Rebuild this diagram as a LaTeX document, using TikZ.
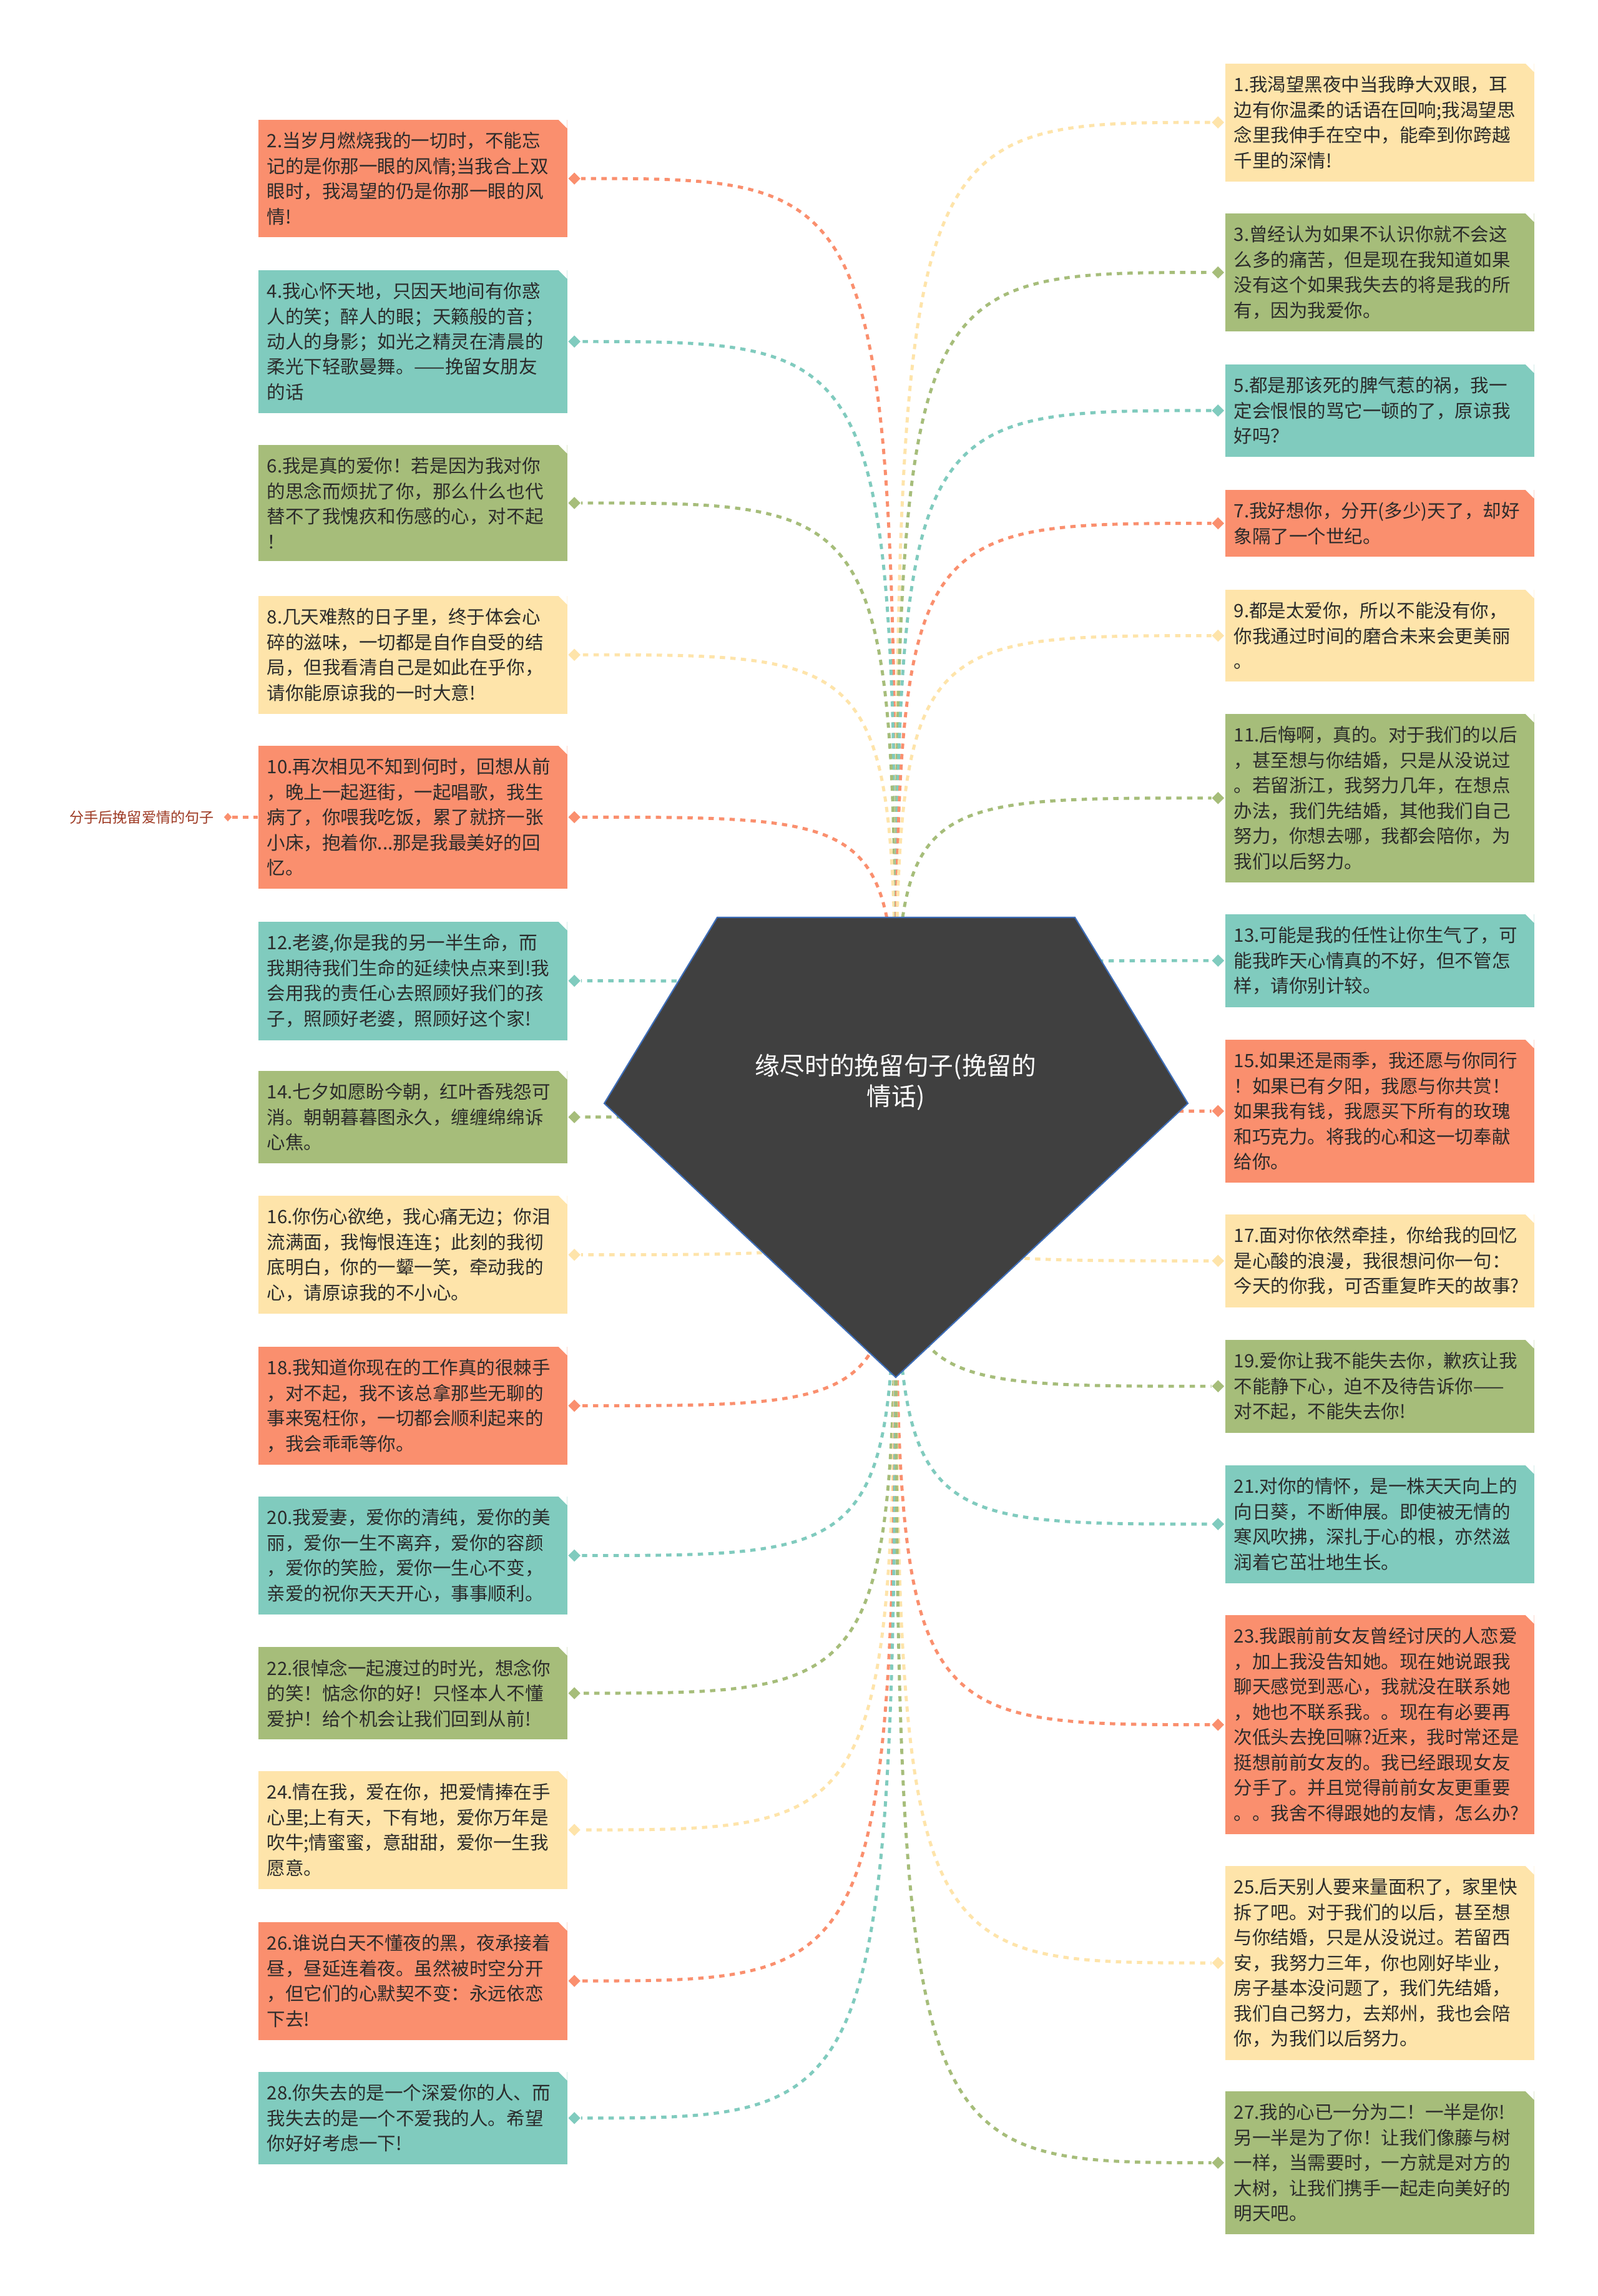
\documentclass[tikz,border=0pt]{standalone}
\usepackage{fontspec}
\usepackage{tikz}
\usetikzlibrary{shapes.geometric,positioning}
\newfontfamily\cjk{Noto Sans CJK SC}
\definecolor{cOrange}{HTML}{FA8F6E}
\definecolor{cTeal}{HTML}{80CBBE}
\definecolor{cGreen}{HTML}{A6BD7A}
\definecolor{cYellow}{HTML}{FEE4AA}
\definecolor{cText}{HTML}{2B2B2B}
\definecolor{cHub}{HTML}{404040}
\definecolor{cHubLine}{HTML}{3D6DB8}
\definecolor{cRoot}{HTML}{9E3A24}

\begin{document}
\begin{tikzpicture}[
    leaf/.style={rectangle, anchor=north west, text width=4.67cm, align=left,
      inner xsep=0.14cm, inner ysep=0.2cm, text=cText,
      font=\cjk\fontsize{8.4}{11.52}\selectfont,
      path picture={\fill[white] (path picture bounding box.north east) -- ++(-0.14,0) -- ++(0.14,-0.14) -- cycle;}},
    tip/.style={diamond, inner sep=0pt, minimum width=0.2cm, minimum height=0.2cm},
    link/.style={line width=1.4pt, dash pattern=on 2.4pt off 2.4pt}]
    \fill[white] (0,0) rectangle (25.6,-36.79);
    \useasboundingbox (0,0) rectangle (25.6,-36.79);
    \coordinate (hub) at (14.35,-17.90);

    % left column
    \node[leaf, fill=cOrange] (n2) at (4.13,-1.91) {2.当岁月燃烧我的一切时，不能忘\\记的是你那一眼的风情;当我合上双\\眼时，我渴望的仍是你那一眼的风\\情!};
    \node[leaf, fill=cTeal] (n4) at (4.13,-4.32) {4.我心怀天地，只因天地间有你惑\\人的笑；醉人的眼；天籁般的音；\\动人的身影；如光之精灵在清晨的\\柔光下轻歌曼舞。——挽留女朋友\\的话};
    \node[leaf, fill=cGreen] (n6) at (4.13,-7.12) {6.我是真的爱你！若是因为我对你\\的思念而烦扰了你，那么什么也代\\替不了我愧疚和伤感的心，对不起\\！};
    \node[leaf, fill=cYellow] (n8) at (4.13,-9.54) {8.几天难熬的日子里，终于体会心\\碎的滋味，一切都是自作自受的结\\局，但我看清自己是如此在乎你，\\请你能原谅我的一时大意!};
    \node[leaf, fill=cOrange] (n10) at (4.13,-11.94) {10.再次相见不知到何时，回想从前\\，晚上一起逛街，一起唱歌，我生\\病了，你喂我吃饭，累了就挤一张\\小床，抱着你...那是我最美好的回\\忆。};
    \node[leaf, fill=cTeal] (n12) at (4.13,-14.76) {12.老婆,你是我的另一半生命，而\\我期待我们生命的延续快点来到!我\\会用我的责任心去照顾好我们的孩\\子，照顾好老婆，照顾好这个家!};
    \node[leaf, fill=cGreen] (n14) at (4.13,-17.15) {14.七夕如愿盼今朝，红叶香残怨可\\消。朝朝暮暮图永久，缠缠绵绵诉\\心焦。};
    \node[leaf, fill=cYellow] (n16) at (4.13,-19.15) {16.你伤心欲绝，我心痛无边；你泪\\流满面，我悔恨连连；此刻的我彻\\底明白，你的一颦一笑，牵动我的\\心，请原谅我的不小心。};
    \node[leaf, fill=cOrange] (n18) at (4.13,-21.57) {18.我知道你现在的工作真的很棘手\\，对不起，我不该总拿那些无聊的\\事来冤枉你，一切都会顺利起来的\\，我会乖乖等你。};
    \node[leaf, fill=cTeal] (n20) at (4.13,-23.97) {20.我爱妻，爱你的清纯，爱你的美\\丽，爱你一生不离弃，爱你的容颜\\，爱你的笑脸，爱你一生心不变，\\亲爱的祝你天天开心，事事顺利。};
    \node[leaf, fill=cGreen] (n22) at (4.13,-26.38) {22.很悼念一起渡过的时光，想念你\\的笑！惦念你的好！只怪本人不懂\\爱护！给个机会让我们回到从前!};
    \node[leaf, fill=cYellow] (n24) at (4.13,-28.37) {24.情在我，爱在你，把爱情捧在手\\心里;上有天，下有地，爱你万年是\\吹牛;情蜜蜜，意甜甜，爱你一生我\\愿意。};
    \node[leaf, fill=cOrange] (n26) at (4.13,-30.79) {26.谁说白天不懂夜的黑，夜承接着\\昼，昼延连着夜。虽然被时空分开\\，但它们的心默契不变：永远依恋\\下去!};
    \node[leaf, fill=cTeal] (n28) at (4.13,-33.19) {28.你失去的是一个深爱你的人、而\\我失去的是一个不爱我的人。希望\\你好好考虑一下!};

    % right column
    \node[leaf, fill=cYellow] (n1) at (19.62,-1.01) {1.我渴望黑夜中当我睁大双眼，耳\\边有你温柔的话语在回响;我渴望思\\念里我伸手在空中，能牵到你跨越\\千里的深情!};
    \node[leaf, fill=cGreen] (n3) at (19.62,-3.41) {3.曾经认为如果不认识你就不会这\\么多的痛苦，但是现在我知道如果\\没有这个如果我失去的将是我的所\\有，因为我爱你。};
    \node[leaf, fill=cTeal] (n5) at (19.62,-5.83) {5.都是那该死的脾气惹的祸，我一\\定会恨恨的骂它一顿的了，原谅我\\好吗？};
    \node[leaf, fill=cOrange] (n7) at (19.62,-7.84) {7.我好想你，分开(多少)天了，却好\\象隔了一个世纪。};
    \node[leaf, fill=cYellow] (n9) at (19.62,-9.44) {9.都是太爱你，所以不能没有你，\\你我通过时间的磨合未来会更美丽\\。};
    \node[leaf, fill=cGreen] (n11) at (19.62,-11.43) {11.后悔啊，真的。对于我们的以后\\，甚至想与你结婚，只是从没说过\\。若留浙江，我努力几年，在想点\\办法，我们先结婚，其他我们自己\\努力，你想去哪，我都会陪你，为\\我们以后努力。};
    \node[leaf, fill=cTeal] (n13) at (19.62,-14.64) {13.可能是我的任性让你生气了，可\\能我昨天心情真的不好，但不管怎\\样，请你别计较。};
    \node[leaf, fill=cOrange] (n15) at (19.62,-16.65) {15.如果还是雨季，我还愿与你同行\\！如果已有夕阳，我愿与你共赏！\\如果我有钱，我愿买下所有的玫瑰\\和巧克力。将我的心和这一切奉献\\给你。};
    \node[leaf, fill=cYellow] (n17) at (19.62,-19.45) {17.面对你依然牵挂，你给我的回忆\\是心酸的浪漫，我很想问你一句：\\今天的你我，可否重复昨天的故事?};
    \node[leaf, fill=cGreen] (n19) at (19.62,-21.46) {19.爱你让我不能失去你，歉疚让我\\不能静下心，迫不及待告诉你——\\对不起，不能失去你!};
    \node[leaf, fill=cTeal] (n21) at (19.62,-23.47) {21.对你的情怀，是一株天天向上的\\向日葵，不断伸展。即使被无情的\\寒风吹拂，深扎于心的根，亦然滋\\润着它茁壮地生长。};
    \node[leaf, fill=cOrange] (n23) at (19.62,-25.87) {23.我跟前前女友曾经讨厌的人恋爱\\，加上我没告知她。现在她说跟我\\聊天感觉到恶心，我就没在联系她\\，她也不联系我。。现在有必要再\\次低头去挽回嘛?近来，我时常还是\\挺想前前女友的。我已经跟现女友\\分手了。并且觉得前前女友更重要\\。。我舍不得跟她的友情，怎么办?};
    \node[leaf, fill=cYellow] (n25) at (19.62,-29.89) {25.后天别人要来量面积了，家里快\\拆了吧。对于我们的以后，甚至想\\与你结婚，只是从没说过。若留西\\安，我努力三年，你也刚好毕业，\\房子基本没问题了，我们先结婚，\\我们自己努力，去郑州，我也会陪\\你，为我们以后努力。};
    \node[leaf, fill=cGreen] (n27) at (19.62,-33.50) {27.我的心已一分为二！一半是你!\\另一半是为了你！让我们像藤与树\\一样，当需要时，一方就是对方的\\大树，让我们携手一起走向美好的\\明天吧。};

    % diamonds on the box sides
    \foreach \n/\c in {2/cOrange,4/cTeal,6/cGreen,8/cYellow,10/cOrange,12/cTeal,14/cGreen,
        16/cYellow,18/cOrange,20/cTeal,22/cGreen,24/cYellow,26/cOrange,28/cTeal}
      \node[tip, fill=\c, anchor=west] (d\n) at (n\n.east) {};
    \foreach \n/\c in {1/cYellow,3/cGreen,5/cTeal,7/cOrange,9/cYellow,11/cGreen,13/cTeal,
        15/cOrange,17/cYellow,19/cGreen,21/cTeal,23/cOrange,25/cYellow,27/cGreen}
      \node[tip, fill=\c, anchor=east] (d\n) at (n\n.west) {};

    % connectors, the pentagon covers their start
    \foreach \n/\c in {2/cOrange,4/cTeal,6/cGreen,8/cYellow,10/cOrange,12/cTeal,14/cGreen,
        16/cYellow,18/cOrange,20/cTeal,22/cGreen,24/cYellow,26/cOrange,28/cTeal}
      \draw[link, \c] (hub) .. controls (hub |- d\n.east) .. (d\n.east);
    \foreach \n/\c in {1/cYellow,3/cGreen,5/cTeal,7/cOrange,9/cYellow,11/cGreen,13/cTeal,
        15/cOrange,17/cYellow,19/cGreen,21/cTeal,23/cOrange,25/cYellow,27/cGreen}
      \draw[link, \c] (hub) .. controls (hub |- d\n.west) .. (d\n.west);

    % central topic
    \coordinate (p1) at (11.49,-14.70);
    \coordinate (p2) at (17.22,-14.70);
    \coordinate (p3) at (19.03,-17.68);
    \coordinate (p4) at (14.35,-22.07);
    \coordinate (p5) at (9.68,-17.68);
    \filldraw[fill=cHub, draw=cHubLine, line width=0.6pt] (p1) -- (p2) -- (p3) -- (p4) -- (p5) -- cycle;
    \node[align=center, inner sep=0pt, text=white, font=\cjk\fontsize{11.3}{13.9}\selectfont]
      (title) at (14.35,-17.345) {缘尽时的挽留句子(挽留的\\情话)};

    % parent label on the far left
    \node[tip, fill=cOrange, minimum width=0.13cm, minimum height=0.14cm] (dl) at ([xshift=-0.48cm]n10.west) {};
    \node[anchor=east, inner sep=0pt, text=cRoot, font=\cjk\fontsize{6.6}{8}\selectfont]
      (root) at ([xshift=-0.14cm]dl.west) {分手后挽留爱情的句子};
    \draw[link, cOrange] (dl.east) -- (n10.west);
  \end{tikzpicture}
\end{document}
